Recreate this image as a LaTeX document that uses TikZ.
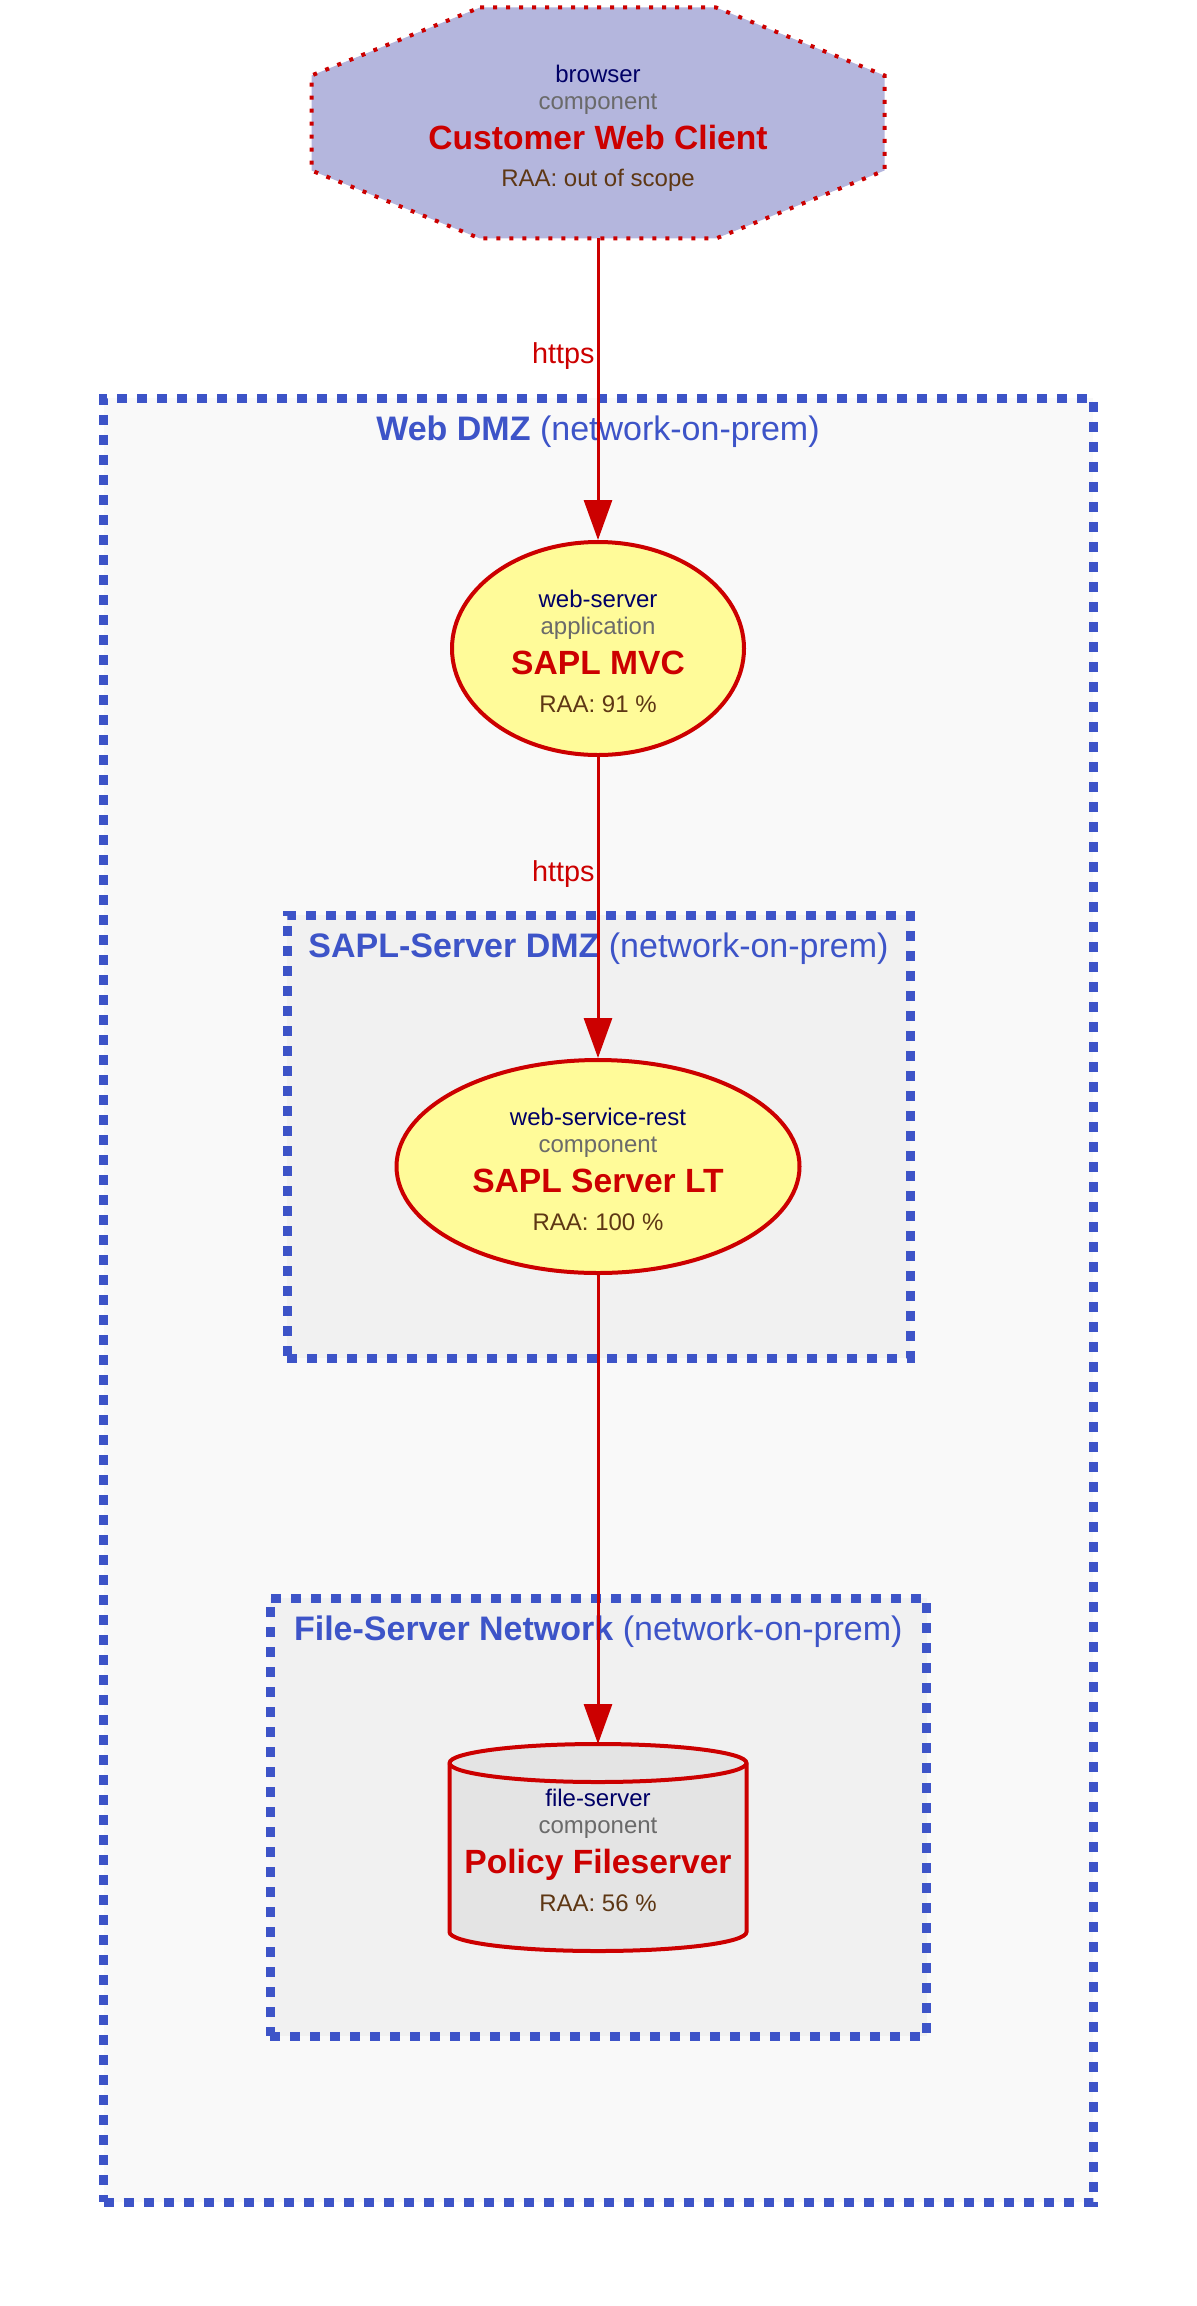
\documentclass[tikz,border=0pt]{standalone}
\usepackage{fontspec}
\setmainfont{Liberation Sans}
\usetikzlibrary{shapes.geometric,arrows.meta}

\definecolor{zoneblue}{HTML}{3D54C8}
\definecolor{flowred}{HTML}{CC0000}
\definecolor{typenavy}{HTML}{000066}
\definecolor{kindgrey}{HTML}{6A6A6A}
\definecolor{raabrown}{HTML}{5E3714}
\definecolor{clientfill}{HTML}{B4B6DD}
\definecolor{appfill}{HTML}{FFFB99}
\definecolor{storefill}{HTML}{E4E4E4}
\definecolor{outerzone}{HTML}{F9F9F9}
\definecolor{innerzone}{HTML}{F1F1F1}

\tikzset{
  zone/.style={rectangle, draw=zoneblue, line width=4.5pt, dash pattern=on 5pt off 5pt, inner sep=0pt},
  zonetitle/.style={text=zoneblue, font=\fontsize{17}{20}\selectfont, anchor=base, inner sep=0pt},
  app/.style={ellipse, draw=flowred, fill=appfill, line width=2pt, inner sep=0pt},
  hull/.style={rectangle, inner sep=0pt, outer sep=0pt},
  typetext/.style={text=typenavy, font=\fontsize{12}{14}\selectfont, anchor=base, inner sep=0pt},
  kindtext/.style={text=kindgrey, font=\fontsize{12}{14}\selectfont, anchor=base, inner sep=0pt},
  nametext/.style={text=flowred, font=\fontsize{16.8}{20}\selectfont\bfseries, anchor=base, inner sep=0pt},
  raatext/.style={text=raabrown, font=\fontsize{12}{14}\selectfont, anchor=base, inner sep=0pt},
  flow/.style={color=flowred, line width=1.5pt, -{Triangle[length=20pt,width=14pt]}},
  flowlabel/.style={text=flowred, font=\fontsize{14.4}{17}\selectfont, anchor=east, inner sep=1pt, pos=0.39},
}

\begin{document}
\begin{tikzpicture}[x=0.5pt, y=0.5pt]
  \useasboundingbox (0,0) rectangle (1197,-2306);

  % trust boundaries
  \node[zone, fill=outerzone, minimum width=494.75pt, minimum height=902pt] (webdmz) at (598.25,-1300) {};
  \node[zonetitle] (webdmz-title) at (598,-440) {\textbf{Web DMZ} (network-on-prem)};
  \node[zone, fill=innerzone, minimum width=311.5pt, minimum height=221.5pt] (sapldmz) at (598.5,-1136.5) {};
  \node[zonetitle] (sapldmz-title) at (598.5,-957) {\textbf{SAPL-Server DMZ} (network-on-prem)};
  \node[zone, fill=innerzone, minimum width=328.25pt, minimum height=219pt] (filenet) at (598.25,-1817) {};
  \node[zonetitle] (filenet-title) at (598.25,-1640) {\textbf{File-Server Network} (network-on-prem)};

  % technical assets
  \node[hull, minimum width=286.5pt, minimum height=115.5pt] (client) at (598,-123) {};
  \draw[draw=flowred, fill=clientfill, line width=2pt, dash pattern=on 2pt off 4.5pt]
    (client.north) ++(-118,0) -- ++(236,0) -- ++(168.5,-68) -- ++(0,-95) -- ++(-168.5,-68)
    -- ++(-236,0) -- ++(-168.5,68) -- ++(0,95) -- cycle;
  \node[typetext] (client-type) at ([yshift=20pt]client.center) {browser};
  \node[kindtext] (client-kind) at ([yshift=6.5pt]client.center) {component};
  \node[nametext] (client-name) at ([yshift=-13.5pt]client.center) {Customer Web Client};
  \node[raatext] (client-raa) at ([yshift=-32pt]client.center) {RAA: out of scope};

  \node[app, minimum width=146pt, minimum height=106.5pt] (mvc) at (598,-648.5) {};
  \node[typetext] (mvc-type) at ([yshift=20.5pt]mvc.center) {web-server};
  \node[kindtext] (mvc-kind) at ([yshift=7pt]mvc.center) {application};
  \node[nametext] (mvc-name) at ([yshift=-13pt]mvc.center) {SAPL MVC};
  \node[raatext] (mvc-raa) at ([yshift=-32pt]mvc.center) {RAA: 91 \%};

  \node[app, minimum width=201.5pt, minimum height=106.5pt] (server) at (598,-1166.5) {};
  \node[typetext] (server-type) at ([yshift=20.5pt]server.center) {web-service-rest};
  \node[kindtext] (server-kind) at ([yshift=7pt]server.center) {component};
  \node[nametext] (server-name) at ([yshift=-13pt]server.center) {SAPL Server LT};
  \node[raatext] (server-raa) at ([yshift=-32pt]server.center) {RAA: 100 \%};

  \node[hull, minimum width=148.5pt, minimum height=103.5pt] (files) at (598,-1847.5) {};
  \draw[draw=flowred, fill=storefill, line width=2pt]
    (files.north west) ++(0,-19) -- ++(0,-169)
    arc[start angle=180, end angle=360, x radius=74.25pt, y radius=9.5pt] -- ++(0,169)
    arc[start angle=0, end angle=180, x radius=74.25pt, y radius=9.5pt] -- cycle;
  \draw[draw=flowred, line width=2pt]
    (files.north west) ++(0,-19) arc[start angle=180, end angle=360, x radius=74.25pt, y radius=9.5pt];
  \node[typetext] (files-type) at ([yshift=20.5pt]files.center) {file-server};
  \node[kindtext] (files-kind) at ([yshift=7pt]files.center) {component};
  \node[nametext] (files-name) at ([yshift=-13pt]files.center) {Policy Fileserver};
  \node[raatext] (files-raa) at ([yshift=-32pt]files.center) {RAA: 56 \%};

  % communication links
  \draw[flow] (client) -- node[flowlabel] {https} (mvc);
  \draw[flow] (mvc) -- node[flowlabel] {https} (server);
  \draw[flow] (server) -- (files);
\end{tikzpicture}
\end{document}
